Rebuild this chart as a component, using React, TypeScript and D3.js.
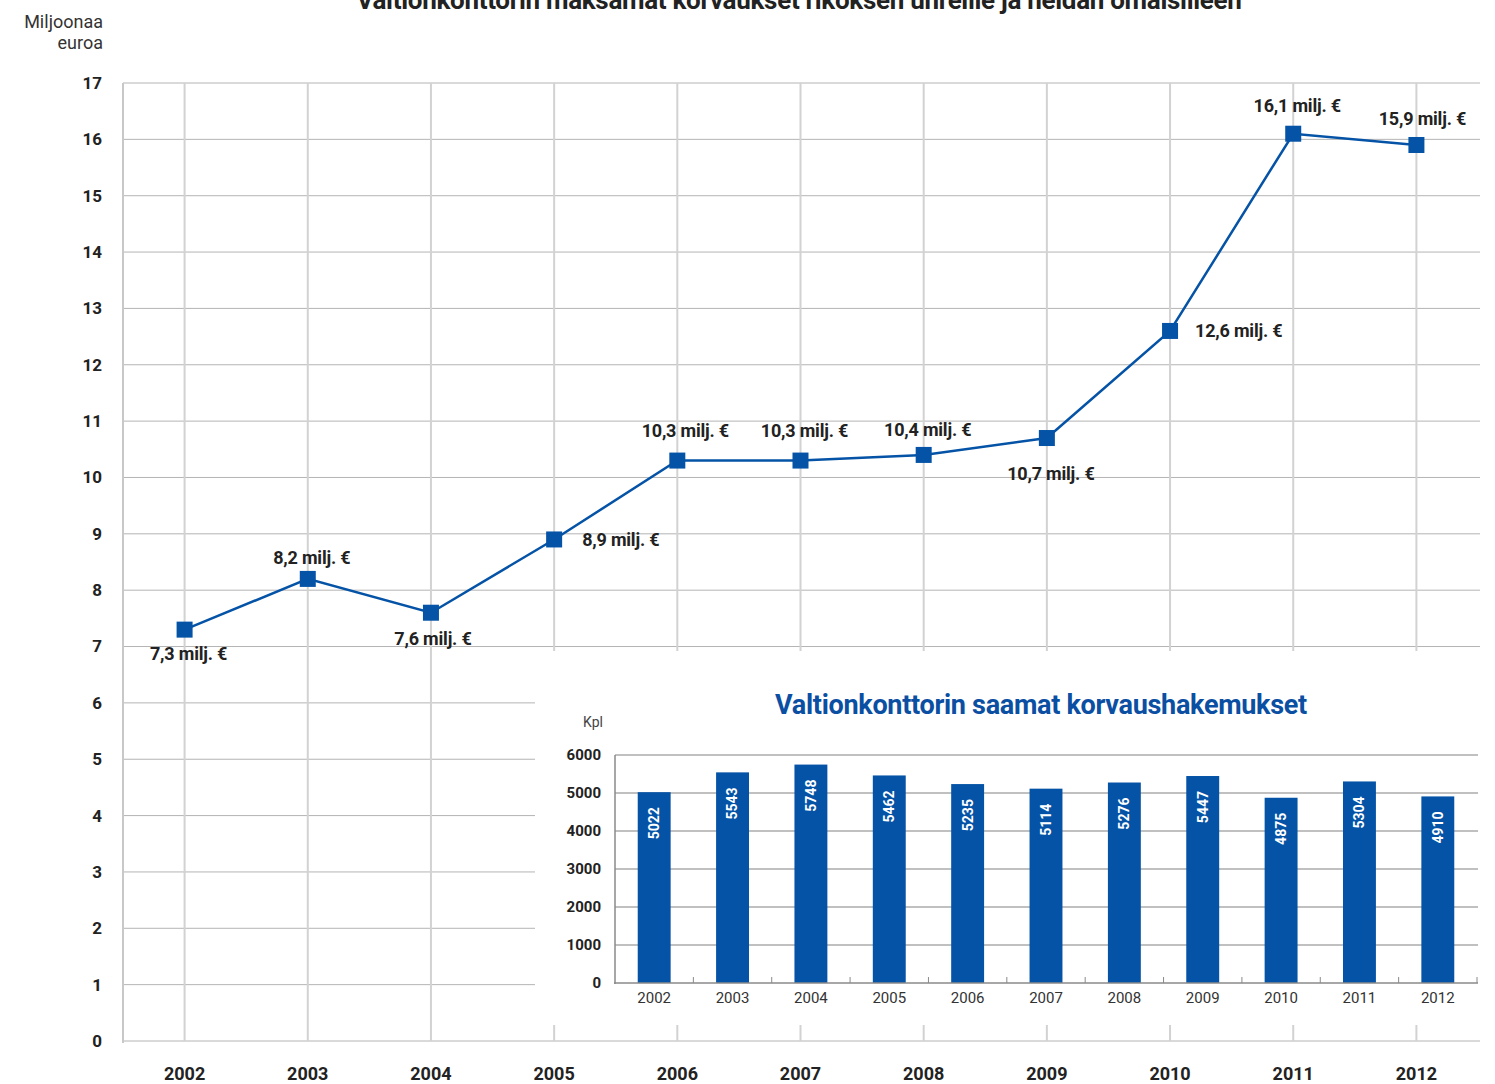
import React from 'react';
import * as d3 from 'd3';

// main chart: paid compensations, million euros
const years = ['2002', '2003', '2004', '2005', '2006', '2007', '2008', '2009', '2010', '2011', '2012'];
const paidMillions = [7.3, 8.2, 7.6, 8.9, 10.3, 10.3, 10.4, 10.7, 12.6, 16.1, 15.9];
const paidLabels = ['7,3', '8,2', '7,6', '8,9', '10,3', '10,3', '10,4', '10,7', '12,6', '16,1', '15,9'];
const yTicks = [0, 1, 2, 3, 4, 5, 6, 7, 8, 9, 10, 11, 12, 13, 14, 15, 16, 17];

// inset: received applications
const applications = [5022, 5543, 5748, 5462, 5235, 5114, 5276, 5447, 4875, 5304, 4910];
const insetTicks = [0, 1000, 2000, 3000, 4000, 5000, 6000];

// where each value label sits relative to its marker: [dx, dy, anchor]
const labelPlacement: [number, number, string][] = [
  [4, 30, 'middle'], [4, -15, 'middle'], [2, 32, 'middle'], [28, 7, 'start'],
  [8, -24, 'middle'], [4, -24, 'middle'], [4, -19, 'middle'], [4, 42, 'middle'],
  [25, 6, 'start'], [4, -22, 'middle'], [6, -20, 'middle'],
];

const W = 1495;
const H = 1084;
const BLUE = '#0553a6';
const FONT = 'Roboto, "Open Sans", sans-serif';

export default function App() {
  const x = d3.scaleBand().domain(years).range([123, 1478]);
  const y = d3.scaleLinear().domain([0, 17]).range([1041, 83]);
  const cx = (d: string) => (x(d) as number) + x.bandwidth() / 2;

  const line = d3.line<number>()
    .x((_, i) => cx(years[i]))
    .y(d => y(d));

  const xi = d3.scaleBand().domain(years).range([615, 1477]).paddingInner(0.58).paddingOuter(0.29);
  const yi = d3.scaleLinear().domain([0, 6000]).range([983, 755]);
  const step = xi.step();
  const boundaries = years.slice(1).map(d => (xi(d) as number) - (step - xi.bandwidth()) / 2);

  return (
    <svg width={W} height={H} style={{ position: 'absolute', left: 0, top: 0, background: '#fff' }} fontFamily={FONT}>
      <text x={799} y={9} textAnchor="middle" fontSize={26} fontWeight="bold" fill="#222" letterSpacing={-0.3}>
        Valtionkonttorin maksamat korvaukset rikoksen uhreille ja heidän omaisilleen
      </text>
      <text x={103} y={28} textAnchor="end" fontSize={18} fill="#333">Miljoonaa</text>
      <text x={103} y={49} textAnchor="end" fontSize={18} fill="#333">euroa</text>

      {/* horizontal grid */}
      {yTicks.map(t => (
        <line key={'h' + t} x1={123} x2={1480} y1={y(t)} y2={y(t)} stroke="#b4b4b4" strokeWidth={1} />
      ))}
      {/* vertical grid */}
      {years.map(d => (
        <line key={'v' + d} x1={cx(d)} x2={cx(d)} y1={83} y2={1041} stroke="#d2d2d2" strokeWidth={2} />
      ))}
      <line x1={123} x2={123} y1={83} y2={1043} stroke="#c8c8c8" strokeWidth={2} />

      {yTicks.map(t => (
        <text key={'yl' + t} x={102} y={y(t)} dy="0.35em" textAnchor="end" fontSize={17} fontWeight="bold" fill="#222">{t}</text>
      ))}
      {years.map(d => (
        <text key={'xl' + d} x={cx(d)} y={1080} textAnchor="middle" fontSize={18} fontWeight="bold" fill="#222">{d}</text>
      ))}

      <path d={line(paidMillions) as string} fill="none" stroke={BLUE} strokeWidth={2.5} />
      {paidMillions.map((v, i) => (
        <rect key={'m' + i} x={cx(years[i]) - 8} y={y(v) - 8} width={16} height={16} fill={BLUE} />
      ))}
      {paidMillions.map((v, i) => {
        const [dx, dy, anchor] = labelPlacement[i];
        return (
          <text key={'pl' + i} x={cx(years[i]) + dx} y={y(v) + dy} textAnchor={anchor as any}
            fontSize={18} fontWeight="bold" fill="#222" letterSpacing={-0.2}>
            {paidLabels[i]} milj. €
          </text>
        );
      })}

      {/* inset */}
      <rect x={535} y={651} width={W - 535} height={374} fill="#fff" />
      <text x={1041} y={714} textAnchor="middle" fontSize={27} fontWeight="bold" fill="#0b4fa3" letterSpacing={-0.3}>
        Valtionkonttorin saamat korvaushakemukset
      </text>
      <text x={603} y={727} textAnchor="end" fontSize={14} fill="#444">Kpl</text>
      {insetTicks.map(t => (
        <g key={'it' + t}>
          {t > 0 && <line x1={615} x2={1478} y1={yi(t)} y2={yi(t)} stroke="#ababab" strokeWidth={1.5} />}
          <text x={601} y={yi(t)} dy="0.35em" textAnchor="end" fontSize={15} fontWeight="bold" fill="#222">{t}</text>
        </g>
      ))}
      {applications.map((v, i) => {
        const bx = xi(years[i]) as number;
        return (
          <g key={'b' + i}>
            <rect x={bx} y={yi(v)} width={xi.bandwidth()} height={yi(0) - yi(v)} fill={BLUE} />
            <text transform={`translate(${bx + xi.bandwidth() / 2},${yi(v) + 15}) rotate(-90)`}
              dy="0.35em" textAnchor="end" fontSize={14} fontWeight="bold" fill="#fff">{v}</text>
          </g>
        );
      })}
      <line x1={615} x2={615} y1={755} y2={984} stroke="#8a8a8a" strokeWidth={1.5} />
      <line x1={614} x2={1478} y1={983} y2={983} stroke="#8a8a8a" strokeWidth={1.5} />
      {boundaries.concat([1477]).map((bx, i) => (
        <line key={'tk' + i} x1={bx} x2={bx} y1={983} y2={977} stroke="#8a8a8a" strokeWidth={1} />
      ))}
      {years.map(d => (
        <text key={'ixl' + d} x={(xi(d) as number) + xi.bandwidth() / 2} y={998} dy="0.35em"
          textAnchor="middle" fontSize={15} fill="#333">{d}</text>
      ))}
    </svg>
  );
}
